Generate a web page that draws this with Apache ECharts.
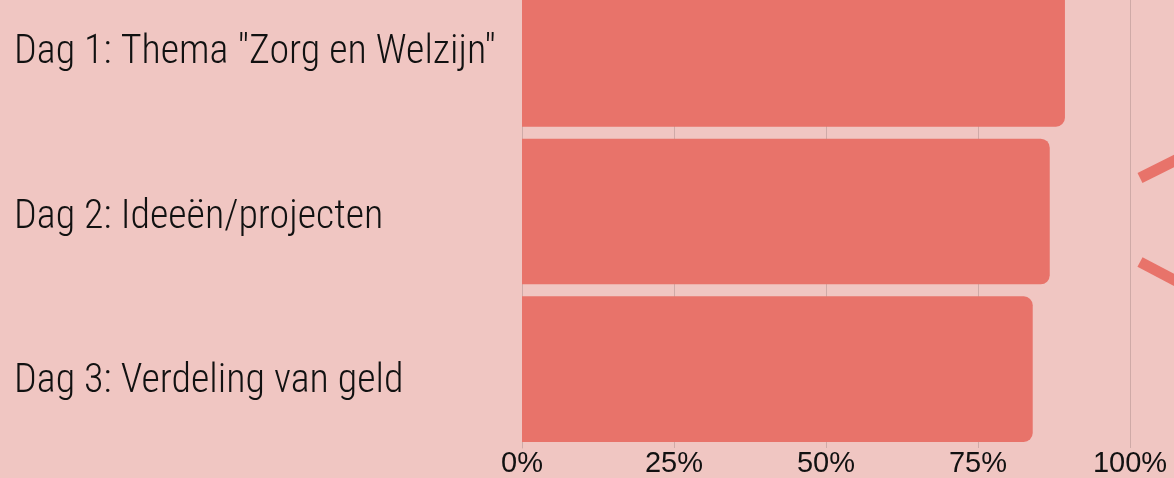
<!DOCTYPE html>
<html>
<head>
<meta charset="utf-8">
<script src="https://cdn.jsdelivr.net/npm/echarts@6/dist/echarts.min.js"></script>
<style>
  html, body { margin: 0; padding: 0; background: #f0c6c2; overflow: hidden; }
  /* top bar is cut off in the original, so the chart sits 25px above the window */
  #chart { width: 1174px; height: 503px; margin-top: -25px; }
</style>
</head>
<body>
<div id="chart"></div>
<script>
const categories = ['Dag 1: Thema "Zorg en Welzijn"', 'Dag 2: Ideeën/projecten', 'Dag 3: Verdeling van geld']
const values = [89.3, 86.8, 84.0]
const tickLabels = ['0%', '25%', '50%', '75%', '100%']

const labelFont = {
  color: '#111',
  fontSize: 40,
  fontWeight: 300,
  fontFamily: 'Roboto Condensed, Roboto, sans-serif'
}

const chart = echarts.init(document.getElementById('chart'))
chart.setOption({
  backgroundColor: '#f0c6c2',
  animation: false,
  grid: { left: 522, right: 44, top: 0, bottom: 27, containLabel: false },
  xAxis: {
    type: 'value',
    min: 0,
    max: 100,
    interval: 25,
    axisLine: { show: false },
    axisTick: { show: false },
    splitLine: { lineStyle: { color: '#cfaaa7', width: 1 } },
    axisLabel: {
      margin: 1,
      color: '#111',
      fontSize: 29,
      fontFamily: 'Liberation Sans, Arial, sans-serif',
      formatter: (v) => tickLabels[v / 25]
    }
  },
  yAxis: {
    type: 'category',
    inverse: true,
    data: categories,
    axisLine: { show: true, lineStyle: { color: '#cfaaa7' } },
    axisTick: { show: false },
    axisLabel: {
      align: 'left',
      margin: 508,
      // labels drift a bit lower than the bar centres in the original
      formatter: (v, i) => `{l${i}|${v}}`,
      rich: {
        l0: { ...labelFont, padding: [0, 0, 2, 0] },
        l1: { ...labelFont, padding: [12, 0, 0, 0] },
        l2: { ...labelFont, padding: [26, 0, 0, 0] }
      }
    }
  },
  series: [{
    type: 'bar',
    data: values,
    barCategoryGap: '7.6%',
    itemStyle: { color: '#e8736a', borderRadius: [0, 9, 9, 0] }
  }],
  graphic: [
    { type: 'line', shape: { x1: 1140, y1: 203, x2: 1180, y2: 183 }, style: { stroke: '#e8736a', lineWidth: 11 } },
    { type: 'line', shape: { x1: 1140, y1: 287, x2: 1180, y2: 308 }, style: { stroke: '#e8736a', lineWidth: 11 } }
  ]
})
</script>
</body>
</html>
